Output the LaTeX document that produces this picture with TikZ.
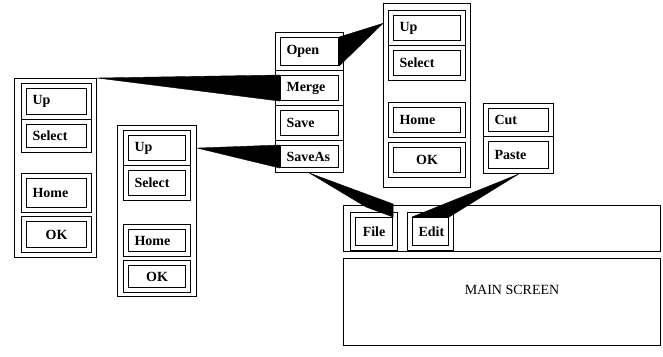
\documentclass[tikz,border=0pt]{standalone}
\usepackage{fontspec}
\setmainfont{Liberation Serif}
\usetikzlibrary{calc}

\begin{document}
\begin{tikzpicture}[x=1pt,y=-1pt,line width=1.1pt,
  every node/.style={font=\fontsize{14}{15}\selectfont\bfseries},
  wedge/.style={fill=black,draw=black,line width=0.4pt,line join=round}]

\useasboundingbox (0,0) rectangle (663,356);

\def\g {5} % gap between cell and inner box

\newcommand{\panel}[5] % [name][x][y][w][h]
{
 \node[draw,inner sep=0pt,minimum width=#4,minimum height=#5,
   anchor=north west] (#1) at (#2,#3) {};
}

\newcommand{\btn}[7][left] % [align][name][x][y][w][h][label]
{
 \pgfmathsetmacro{\tw}{#5-2*\g-12}
 \node[draw,inner sep=0pt,minimum width=#5,minimum height=#6,
   anchor=north west] (#2-o) at (#3,#4) {};
 \node[draw,inner sep=0pt,minimum width={#5-2*\g},minimum height={#6-2*\g},
   text width=\tw pt,align=#1] (#2) at (#2-o) {#7};
}

% left panel
\panel{pa}{14}{78}{82}{179}
\btn{paup}{21}{83}{70}{36}{Up}
\btn{pasel}{21}{119}{70}{33}{Select}
\btn{pahome}{21}{173}{70}{39}{Home}
\btn[center]{paok}{21}{216}{70}{36}{OK}

% second panel
\panel{pb}{117}{125}{79}{171}
\btn{pbup}{123}{130}{67}{35}{Up}
\btn{pbsel}{123}{165}{67}{35}{Select}
\btn{pbhome}{123}{224}{67}{32}{Home}
\btn[center]{pbok}{123}{260}{67}{32}{OK}

% file menu
\panel{pc}{275}{32}{68}{140}
\btn{open}{275}{32}{68}{38}{Open}
\btn{merge}{275}{70}{68}{35}{Merge}
\btn{save}{275}{105}{68}{35}{Save}
\btn{saveas}{275}{140}{68}{32}{SaveAs}

% top right panel
\panel{pd}{383}{3}{87}{184}
\btn{pdup}{388}{10}{77}{35}{Up}
\btn{pdsel}{388}{45}{77}{35}{Select}
\btn{pdhome}{388}{102}{77}{35}{Home}
\btn[center]{pdok}{388}{142}{77}{35}{OK}

% edit menu
\panel{pe}{483}{103}{70}{70}
\btn{cut}{483}{103}{70}{33}{Cut}
\btn{paste}{483}{136}{70}{37}{Paste}

% menu bar and screen
\panel{bar}{343}{205}{317}{46}
\btn[center]{file}{350}{212}{47}{38}{File}
\btn[center]{edit}{407}{212}{46}{38}{Edit}
\panel{screen}{343}{258}{317}{87}
\node[font=\fontsize{14}{15}\selectfont] (title) at (512,290) {MAIN SCREEN};

% wedges
\fill[wedge] (pa.north east) -- (merge.north west) -- (merge.south west) -- cycle;
\fill[wedge] (pb.east |- pbup.center) -- (saveas.north west) -- (saveas.south west) -- cycle;
\fill[wedge] (open.north east) -- (open.south east)
  -- ($(pd.north west)!0.11!(pd.south west)$) -- cycle;
\fill[wedge] (pc.south) -- ($(file.north east)+(0,-13)$) -- (file.north east)
  -- ($(file.north)+(-8,-10)$) -- cycle;
\fill[wedge] (pe.south) -- (edit.north west) -- (edit.north east) -- cycle;

\end{tikzpicture}
\end{document}
